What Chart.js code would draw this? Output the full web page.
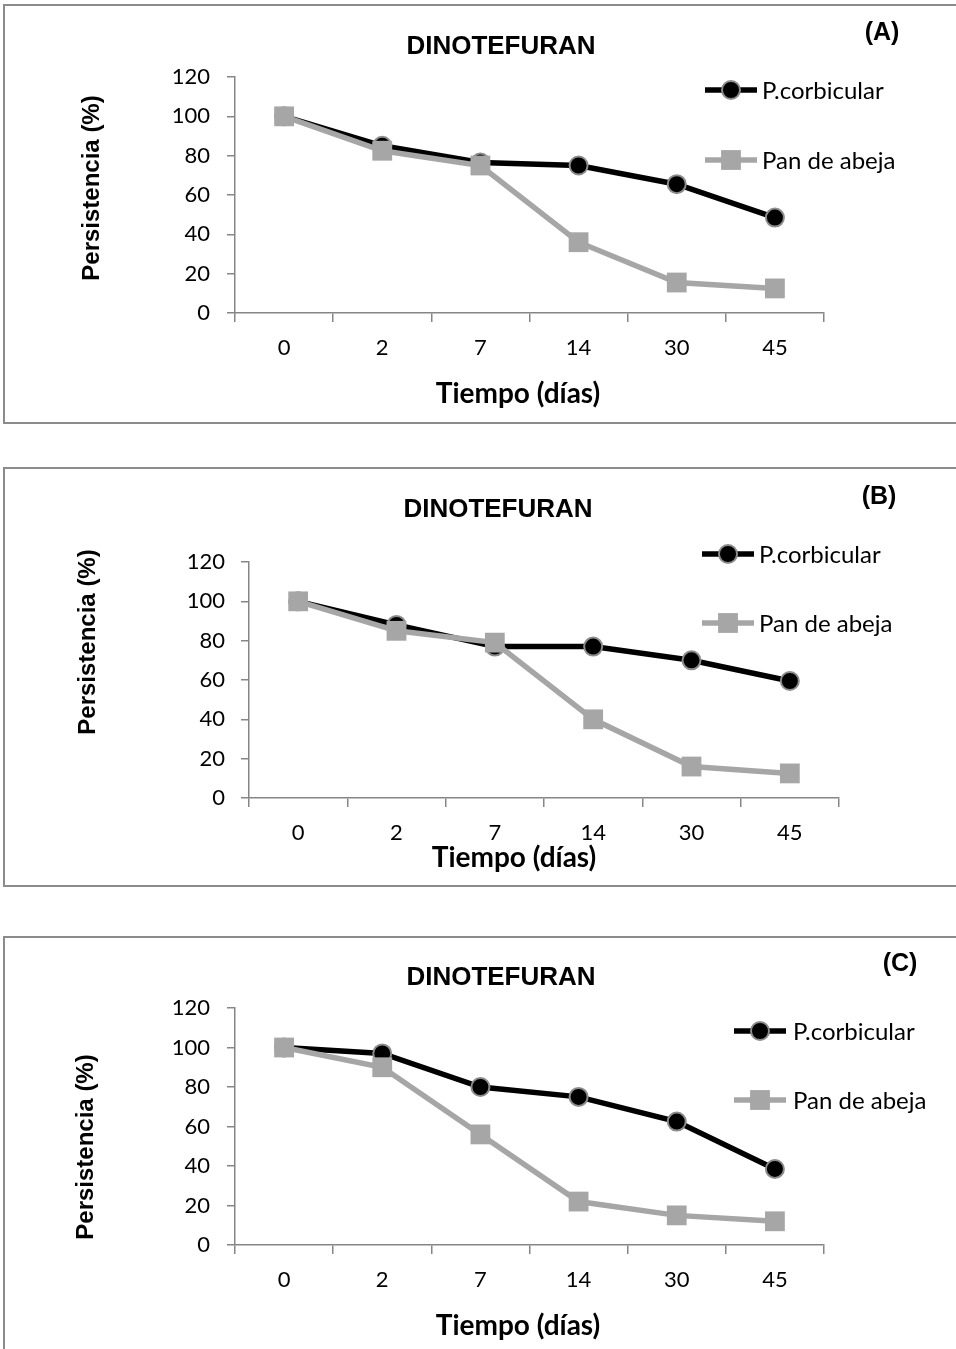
<!DOCTYPE html>
<html>
<head>
<meta charset="utf-8">
<title>Dinotefuran persistencia</title>
<script src="https://cdn.jsdelivr.net/npm/chart.js@4.4.1/dist/chart.umd.min.js"></script>
<style>
  html, body { margin: 0; padding: 0; background: #fff; overflow: hidden; }
  body { width: 956px; height: 1349px; position: relative; }
  .panel { position: absolute; left: 3px; width: 1000px; height: 416px; border: 2px solid #8c8c8c; }
  .panel canvas { position: absolute; left: 0; top: 0; }
</style>
</head>
<body>
<div class="panel" style="top:4px"><canvas id="chartA" width="951" height="416"></canvas></div>
<div class="panel" style="top:467px"><canvas id="chartB" width="951" height="416"></canvas></div>
<div class="panel" style="top:936px"><canvas id="chartC" width="951" height="416"></canvas></div>

<script>
// --- data ---
const days = ['0', '2', '7', '14', '30', '45'];
const seriesNames = ['P.corbicular', 'Pan de abeja'];
const chartTitle = 'DINOTEFURAN';
const yAxisTitle = 'Persistencia (%)';
const xAxisTitle = 'Tiempo (días)';
const yMin = 0, yMax = 120, yStep = 20;

const corbicularA = [100, 85, 76.5, 75, 65.5, 48.5];
const panAbejaA   = [100, 82.5, 75, 36, 15.5, 12.5];

const corbicularB = [100, 88, 77, 77, 70, 59.5];
const panAbejaB   = [100, 85, 79, 40, 16, 12.5];

const corbicularC = [100, 97, 80, 75, 62.5, 38.5];
const panAbejaC   = [100, 90, 56, 22, 15, 12];

const tickFont = { family: 'Lato, "Open Sans", sans-serif', size: 22 };
const axisGray = '#868686';

// draws title, panel letter, axis titles and the legend (page coordinates in cfg)
const panelText = {
    id: 'panelText',
    afterDraw(chart, args, cfg) {
        const ctx = chart.ctx;
        const ox = cfg.origin[0], oy = cfg.origin[1];
        ctx.save();
        ctx.fillStyle = '#000';
        ctx.textBaseline = 'middle';

        ctx.textAlign = 'center';
        ctx.font = 'bold 26px "Liberation Sans", Arial, sans-serif';
        ctx.fillText(chartTitle, cfg.title[0] - ox, cfg.title[1] - oy);

        ctx.font = 'bold 25px "Liberation Sans", Arial, sans-serif';
        ctx.fillText(cfg.letter, cfg.letterPos[0] - ox, cfg.letterPos[1] - oy);

        ctx.font = 'bold 28px Lato, sans-serif';
        ctx.fillText(xAxisTitle, cfg.xTitle[0] - ox, cfg.xTitle[1] - oy);

        ctx.save();
        ctx.translate(cfg.yTitle[0] - ox, cfg.yTitle[1] - oy);
        ctx.rotate(-Math.PI / 2);
        ctx.font = 'bold 24px "Liberation Sans", Arial, sans-serif';
        ctx.fillText(yAxisTitle, 0, 0);
        ctx.restore();

        // legend: line + marker + label
        chart.data.datasets.forEach((ds, i) => {
            const x = cfg.legend.x - ox;
            const y = cfg.legend.y[i] - oy;
            ctx.strokeStyle = ds.borderColor;
            ctx.lineWidth = ds.borderWidth;
            ctx.beginPath();
            ctx.moveTo(x - 26, y);
            ctx.lineTo(x + 26, y);
            ctx.stroke();
            ctx.fillStyle = ds.pointBackgroundColor;
            ctx.strokeStyle = ds.pointBorderColor;
            ctx.lineWidth = ds.pointBorderWidth;
            if (ds.pointStyle === 'circle') {
                ctx.beginPath();
                ctx.arc(x, y, ds.pointRadius, 0, Math.PI * 2);
                ctx.fill();
                ctx.stroke();
            } else {
                const h = ds.pointRadius * Math.SQRT1_2;
                ctx.fillRect(x - h, y - h, 2 * h, 2 * h);
            }
            ctx.fillStyle = '#000';
            ctx.textAlign = 'left';
            ctx.font = '24px Lato, "Open Sans", sans-serif';
            ctx.fillText(ds.label, cfg.legend.text - ox, y + 1);
        });
        ctx.restore();
    }
};

function makePanel(cfg, corbicular, panAbeja) {
    const canvas = document.getElementById(cfg.id);
    const ox = cfg.origin[0], oy = cfg.origin[1];
    const plotLeft = cfg.plot.left - ox;
    const plotRight = cfg.plot.right - ox;
    const plotTop = cfg.plot.top - oy;
    const plotBottom = cfg.plot.bottom - oy;

    return new Chart(canvas.getContext('2d'), {
        type: 'line',
        data: {
            labels: days,
            datasets: [
                {
                    label: seriesNames[0],
                    data: corbicular,
                    borderColor: '#000000',
                    borderWidth: 5.5,
                    pointStyle: 'circle',
                    pointRadius: 9,
                    pointBackgroundColor: '#000000',
                    pointBorderColor: '#8c8c8c',
                    pointBorderWidth: 2,
                    tension: 0,
                    order: 1
                },
                {
                    label: seriesNames[1],
                    data: panAbeja,
                    borderColor: '#a6a6a6',
                    borderWidth: 5.5,
                    pointStyle: 'rect',
                    pointRadius: 14,
                    pointBackgroundColor: '#a6a6a6',
                    pointBorderColor: '#a6a6a6',
                    pointBorderWidth: 0,
                    tension: 0,
                    order: 0
                }
            ]
        },
        options: {
            responsive: false,
            animation: false,
            layout: {
                padding: { left: 0, top: plotTop, right: canvas.width - plotRight, bottom: 0 }
            },
            scales: {
                x: {
                    type: 'category',
                    offset: true,
                    grid: {
                        offset: true,
                        drawOnChartArea: false,
                        drawTicks: true,
                        tickLength: 9,
                        color: axisGray,
                        lineWidth: 1.5
                    },
                    border: { color: axisGray, width: 1.5 },
                    ticks: { color: '#000', font: tickFont, padding: 13, maxRotation: 0 },
                    afterFit: (scale) => { scale.height = canvas.height - plotBottom; }
                },
                y: {
                    min: yMin,
                    max: yMax,
                    grid: {
                        drawOnChartArea: false,
                        drawTicks: true,
                        tickLength: 8,
                        color: axisGray,
                        lineWidth: 1.5
                    },
                    border: { color: axisGray, width: 1.5 },
                    ticks: { stepSize: yStep, color: '#000', font: tickFont, padding: cfg.yPad },
                    afterFit: (scale) => { scale.width = plotLeft; }
                }
            },
            plugins: {
                legend: { display: false },
                title: { display: false },
                tooltip: { enabled: false },
                panelText: cfg
            }
        },
        plugins: [panelText]
    });
}

document.addEventListener('DOMContentLoaded', function() {
    makePanel({
        id: 'chartA', letter: '(A)', origin: [5, 6],
        plot: { left: 235, right: 824, top: 77, bottom: 313 },
        title: [501, 47], letterPos: [882, 33],
        yTitle: [92, 188], xTitle: [518, 394], yPad: 17,
        legend: { x: 731, text: 762, y: [90, 160] }
    }, corbicularA, panAbejaA);

    makePanel({
        id: 'chartB', letter: '(B)', origin: [5, 469],
        plot: { left: 249, right: 839, top: 562, bottom: 798 },
        title: [498, 510], letterPos: [879, 497],
        yTitle: [88, 642], xTitle: [514, 858], yPad: 16,
        legend: { x: 728, text: 759, y: [554, 623] }
    }, corbicularB, panAbejaB);

    makePanel({
        id: 'chartC', letter: '(C)', origin: [5, 938],
        plot: { left: 235, right: 824, top: 1008, bottom: 1245 },
        title: [501, 978], letterPos: [900, 964],
        yTitle: [86, 1147], xTitle: [518, 1326], yPad: 17,
        legend: { x: 760, text: 793, y: [1031, 1100] }
    }, corbicularC, panAbejaC);
});
</script>
</body>
</html>
